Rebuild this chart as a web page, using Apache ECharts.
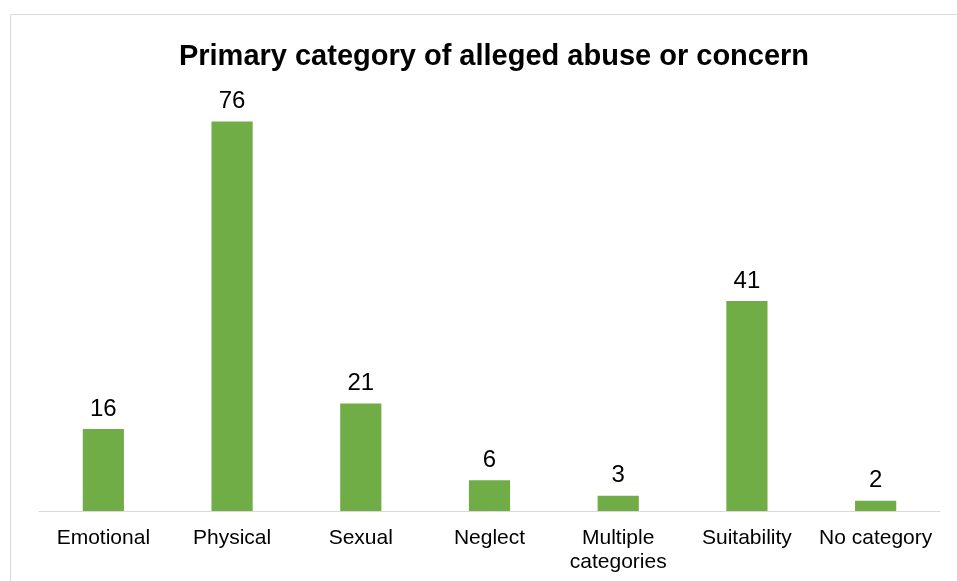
<!DOCTYPE html>
<html>
<head>
<meta charset="utf-8">
<script src="https://cdn.jsdelivr.net/npm/echarts@6/dist/echarts.min.js"></script>
<style>
  html, body { margin: 0; padding: 0; background: #fff; }
  #main { width: 957px; height: 581px; }
</style>
</head>
<body>
<div id="main"></div>
<script>
// chart data
var categories = ['Emotional', 'Physical', 'Sexual', 'Neglect', 'Multiple\ncategories', 'Suitability', 'No category'];
var counts = [16, 76, 21, 6, 3, 41, 2];

var myChart = echarts.init(document.getElementById('main'));

var option = {
    animation: false,
    textStyle: { fontFamily: 'Liberation Sans, Arial, sans-serif' },
    title: {
        text: 'Primary category of alleged abuse or concern',
        left: 489,
        top: 37,
        textAlign: 'center',
        textStyle: {
            fontSize: 29,
            fontWeight: 'bold',
            color: '#000',
            fontFamily: 'Liberation Sans, Arial, sans-serif'
        }
    },
    graphic: [{
        type: 'rect',
        shape: { x: 10.5, y: 14.5, width: 1000, height: 700 },
        style: { fill: 'none', stroke: '#d9d9d9', lineWidth: 1 },
        silent: true
    }],
    grid: {
        left: 39,
        right: 17,
        top: 101,
        bottom: 70,
        containLabel: false
    },
    xAxis: {
        type: 'category',
        data: categories,
        axisLine: { lineStyle: { color: '#d9d9d9', width: 1 } },
        axisTick: { show: false },
        axisLabel: {
            color: '#000',
            fontSize: 21,
            margin: 15,
            lineHeight: 24,
            interval: 0
        }
    },
    yAxis: {
        type: 'value',
        min: 0,
        max: 80,
        show: false,
        splitLine: { show: false }
    },
    series: [{
        type: 'bar',
        data: counts,
        barWidth: '32%',
        itemStyle: { color: '#70ad47' },
        label: {
            show: true,
            position: 'top',
            distance: 8,
            color: '#000',
            fontSize: 24
        }
    }]
};
myChart.setOption(option);

window.addEventListener('resize', function () {
    myChart.resize();
});
</script>
</body>
</html>
